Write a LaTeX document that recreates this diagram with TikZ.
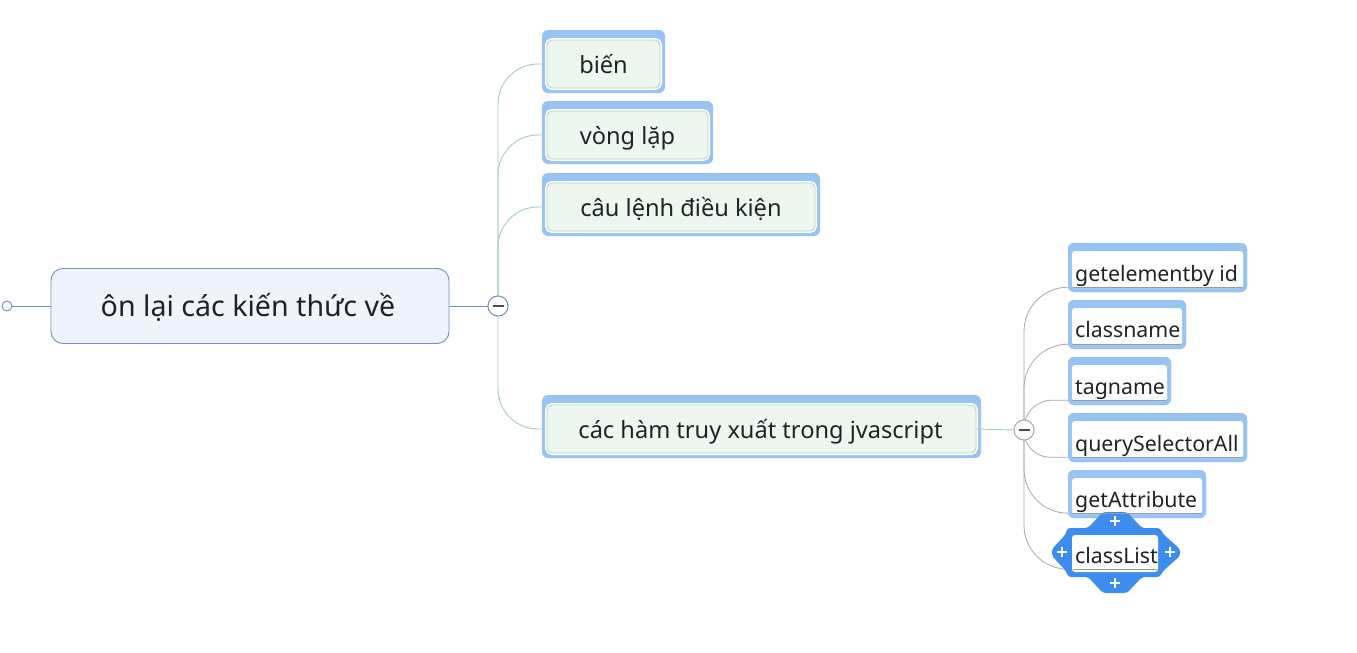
\documentclass[tikz,border=0pt]{standalone}
\usepackage{fontspec}
\setmainfont{Noto Sans}
\definecolor{selblue}{HTML}{98C4F4}
\definecolor{selbright}{HTML}{3D8DEE}
\definecolor{lonefill}{HTML}{EEF6F0}
\definecolor{loneline}{HTML}{B3D3B9}
\definecolor{rootfill}{HTML}{EEF3FC}
\definecolor{rootline}{HTML}{7390BB}
\definecolor{loneconn}{HTML}{A6CDBA}
\definecolor{ltwoconn}{HTML}{A8A8A8}
\definecolor{txt}{HTML}{1F2328}
\definecolor{uline}{HTML}{9A9A9A}
\begin{document}
\begin{tikzpicture}[x=1pt,y=-1pt,
  frame/.style={fill=selblue, draw=none, rounded corners=6pt, inner sep=0pt},
  lonebox/.style={fill=lonefill, draw=loneline, line width=0.8pt, rounded corners=5pt, inner sep=0pt, preaction={draw=white, line width=4pt}},
  lonetxt/.style={anchor=base, inner sep=0pt, text=txt, font=\fontsize{23.6}{28}\selectfont},
  ltwobox/.style={fill=white, draw=none, rounded corners=3pt, inner sep=0pt},
  ltwotxt/.style={anchor=base west, inner sep=0pt, text=txt, font=\fontsize{21.3}{25}\selectfont},
  collapse/.style={circle, draw=#1, fill=white, line width=0.9pt, minimum size=20pt, inner sep=0pt},
  minus/.style={draw=black!70, line width=1.4pt},
  rootconn/.style={draw=rootline, line width=1pt},
  loneconnector/.style={draw=loneconn, line width=0.9pt},
  ltwoconnector/.style={draw=ltwoconn, line width=0.8pt},
  underl/.style={draw=uline, line width=0.8pt},
  plus/.style={draw=white, line width=2.4pt}
]
\useasboundingbox[fill=white] (0,0) rectangle (1357,653);

% root
\node[circle, draw=rootline, fill=white, line width=0.9pt, minimum size=10pt, inner sep=0pt] (lc) at (7,306) {};
\node[fill=rootfill, draw=rootline, line width=0.9pt, rounded corners=12pt, minimum width=398pt, minimum height=75pt, inner sep=0pt] (root) at (250,306) {};
\node[anchor=base, inner sep=0pt, text=txt, font=\fontsize{28.6}{34}\selectfont] (roott) at (248,316) {ôn lại các kiến thức về};
\draw[rootconn] (lc.east) -- (root.west);

% level 1 boxes (geometry)
\node[minimum width=113pt, minimum height=48pt, inner sep=0pt] (b1) at (603.5,64) {};
\node[minimum width=161pt, minimum height=48pt, inner sep=0pt] (b2) at (627.5,135) {};
\node[minimum width=268pt, minimum height=48pt, inner sep=0pt] (b3) at (681,207) {};
\node[minimum width=429pt, minimum height=48pt, inner sep=0pt] (b4) at (761.5,429) {};

\node[collapse=rootline] (c1) at (498,306) {};
% connectors level 1
\draw[loneconnector, rounded corners=40pt] (c1.center) |- (b1.west);
\draw[loneconnector, rounded corners=40pt] (c1.center) |- (b2.west);
\draw[loneconnector, rounded corners=40pt] (c1.center) |- (b3.west);
\draw[loneconnector, rounded corners=40pt] (c1.center) |- (b4.west);
\draw[rootconn] (root.east) -- (c1.west);
\node[collapse=rootline] (c1) at (498,306) {};
\draw[minus] ([xshift=-5.5pt]c1.center) -- ([xshift=5.5pt]c1.center);

% level 1 frames and boxes
\node[frame, minimum width=123pt, minimum height=63pt] (f1) at (603.5,61.5) {};
\node[frame, minimum width=171pt, minimum height=63pt] (f2) at (627.5,132.5) {};
\node[frame, minimum width=278pt, minimum height=63pt] (f3) at (681,204.5) {};
\node[frame, minimum width=439pt, minimum height=63pt] (f4) at (761.5,426.5) {};
\node[lonebox, minimum width=113pt, minimum height=48pt] at (b1) {};
\node[lonebox, minimum width=161pt, minimum height=48pt] at (b2) {};
\node[lonebox, minimum width=268pt, minimum height=48pt] at (b3) {};
\node[lonebox, minimum width=429pt, minimum height=48pt] at (b4) {};
\node[lonetxt] (t1) at (603.5,73) {biến};
\node[lonetxt] (t2) at (627.5,144) {vòng lặp};
\node[lonetxt] (t3) at (681,216) {câu lệnh điều kiện};
\node[lonetxt] (t4) at (760.5,438) {các hàm truy xuất trong jvascript};

% level 2 frames (geometry)
\node[frame, minimum width=179pt, minimum height=49pt] (g1f) at (1157.5,267.5) {};
\node[frame, minimum width=118pt, minimum height=49pt] (g2f) at (1127,324.5) {};
\node[frame, minimum width=103pt, minimum height=48pt] (g3f) at (1119.5,381) {};
\node[frame, minimum width=179pt, minimum height=49pt] (g4f) at (1157.5,437.5) {};
\node[frame, minimum width=138pt, minimum height=48pt] (g5f) at (1137,494) {};
\node[minimum width=86pt, minimum height=37pt, inner sep=0pt] (g6) at (1115,553.5) {};

\node[collapse=ltwoconn] (c2) at (1024,430) {};
\draw[ltwoconnector, rounded corners=44pt] (c2.center) |- ([yshift=5pt]g1f.south west);
\draw[ltwoconnector, rounded corners=44pt] (c2.center) |- ([yshift=5pt]g2f.south west);
\draw[ltwoconnector, rounded corners=28pt] (c2.center) |- ([yshift=5pt]g3f.south west);
\draw[ltwoconnector, rounded corners=26pt] (c2.center) |- ([yshift=5pt]g4f.south west);
\draw[ltwoconnector, rounded corners=44pt] (c2.center) |- ([yshift=5pt]g5f.south west);
\draw[ltwoconnector, rounded corners=44pt] (c2.center) |- ([yshift=3pt]g6.south west);
\draw[loneconnector] (b4.east) -- (c2.west);
\node[collapse=ltwoconn] (c2) at (1024,430) {};
\draw[minus] ([xshift=-5.5pt]c2.center) -- ([xshift=5.5pt]c2.center);

% redraw level-2 frames on top of connectors
\node[frame, minimum width=179pt, minimum height=49pt] at (g1f) {};
\node[frame, minimum width=118pt, minimum height=49pt] at (g2f) {};
\node[frame, minimum width=103pt, minimum height=48pt] at (g3f) {};
\node[frame, minimum width=179pt, minimum height=49pt] at (g4f) {};
\node[frame, minimum width=138pt, minimum height=48pt] at (g5f) {};
% inner white
\node[ltwobox, minimum width=171pt, minimum height=37pt] (g1) at (1157.5,269.5) {};
\node[ltwobox, minimum width=110pt, minimum height=37pt] (g2) at (1127,326.5) {};
\node[ltwobox, minimum width=95pt, minimum height=36pt] (g3) at (1119.5,383) {};
\node[ltwobox, minimum width=171pt, minimum height=37pt] (g4) at (1157.5,439.5) {};
\node[ltwobox, minimum width=130pt, minimum height=36pt] (g5) at (1137,496) {};

% classList selection shape
\fill[selbright, rounded corners=3pt] (1067,528) -- (1088,528) -- (1103,512) -- (1127,512) -- (1142,528) -- (1160,528) -- (1163,534) -- (1180,549) -- (1180,556) -- (1163,571) -- (1160,577) -- (1142,577) -- (1127,593) -- (1103,593) -- (1088,577) -- (1068,577) -- (1066,571) -- (1052,556) -- (1052,549) -- (1066,534) -- cycle;
\node[ltwobox, minimum width=86pt, minimum height=37pt] at (g6) {};
\draw[plus] (1110,521) -- (1120,521) (1115,516) -- (1115,526);
\draw[plus] (1110,583) -- (1120,583) (1115,578) -- (1115,588);
\draw[plus] (1057,552) -- (1067,552) (1062,547) -- (1062,557);
\draw[plus] (1165,552) -- (1175,552) (1170,547) -- (1170,557);

% underlines
\draw[underl] ([xshift=1pt,yshift=1pt]g1.south west) -- ([xshift=-1pt,yshift=1pt]g1.south east);
\draw[underl] ([xshift=1pt,yshift=1pt]g2.south west) -- ([xshift=-1pt,yshift=1pt]g2.south east);
\draw[underl] ([xshift=1pt,yshift=1pt]g3.south west) -- ([xshift=-1pt,yshift=1pt]g3.south east);
\draw[underl] ([xshift=1pt,yshift=1pt]g4.south west) -- ([xshift=-1pt,yshift=1pt]g4.south east);
\draw[underl] ([xshift=1pt,yshift=1pt]g5.south west) -- ([xshift=-1pt,yshift=1pt]g5.south east);
\draw[underl] ([xshift=1pt,yshift=3pt]g6.south west) -- ([xshift=-1pt,yshift=3pt]g6.south east);

% level 2 texts
\node[ltwotxt] (s1) at (1075,281) {getelementby id};
\node[ltwotxt] (s2) at (1075,337) {classname};
\node[ltwotxt] (s3) at (1075,394) {tagname};
\node[ltwotxt] (s4) at (1075,451) {querySelectorAll};
\node[ltwotxt] (s5) at (1075,507) {getAttribute};
\node[ltwotxt] (s6) at (1075,563) {classList};
\end{tikzpicture}
\end{document}
